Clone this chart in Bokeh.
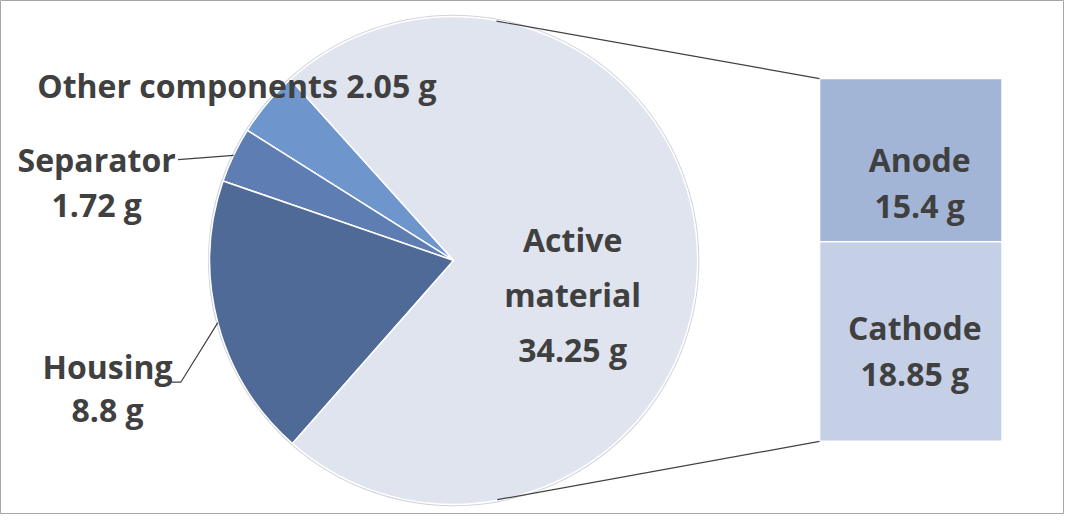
import math
from bokeh.plotting import figure
from bokeh.models import Range1d
from bokeh.core.properties import value
from bokeh.embed import file_html
from bokeh.resources import INLINE

# ---- data ----
pie_labels = ["Other components", "Separator", "Housing", "Active material"]
pie_values = [2.05, 1.72, 8.8, 34.25]
pie_colors = ["#6f95cd", "#5e7db3", "#4f6a97", "#dfe4ef"]
bar_labels = ["Anode", "Cathode"]
bar_values = [15.4, 18.85]
bar_colors = ["#a3b5d7", "#c5d0e7"]
unit = "g"

# ---- layout (reference pixel coords, y downward) ----
W, H = 1064, 514
FX0, FX1, FY0, FY1 = 3, 1076, 6, 526   # chart border in reference coords
CX, CY, R = 460, 269, 246
START = 132.0
BAR_L, BAR_R, BAR_T, BAR_B = 829, 1013, 85, 452
TXT = "#404040"
FONT = value("Open Sans")
FS = "32px"

p = figure(width=W, height=H, output_backend="svg", toolbar_location=None,
           x_range=Range1d(FX0, FX1), y_range=Range1d(-FY1, -FY0),
           x_axis_location=None, y_axis_location=None, min_border=0)
p.grid.visible = False
p.background_fill_color = "white"
p.border_fill_color = "white"
p.outline_line_color = "#a6a6a6"
p.outline_line_width = 1

# ---- pie ----
total = sum(pie_values)
starts, ends, mids = [], [], []
a = START
for v in pie_values:
    span = 360.0 * v / total
    starts.append(math.radians(a))
    ends.append(math.radians(a + span))
    mids.append(a + span / 2)
    a += span

p.circle(x=[CX], y=[-CY], radius=R + 1, fill_color=None,
         line_color="#cfd3dc", line_width=1.5)
p.wedge(x=[CX] * len(pie_values), y=[-CY] * len(pie_values), radius=R,
        start_angle=starts, end_angle=ends,
        direction="anticlock", fill_color=pie_colors,
        line_color="white", line_width=1.5)

# ---- bar ----
btotal = sum(bar_values)
scale = (BAR_B - BAR_T) / btotal
tops, bots = [], []
t = BAR_T
for v in bar_values:
    tops.append(-t)
    bots.append(-(t + v * scale))
    t += v * scale
p.quad(left=[BAR_L] * 2, right=[BAR_R] * 2, top=tops, bottom=bots,
       fill_color=bar_colors, line_color="white", line_width=1.5)

# ---- connector lines (tangents from bar corners to circle) ----
def tangent_point(px, py, upper):
    dx, dy = px - CX, py - (-CY)
    d = math.hypot(dx, dy)
    phi = math.atan2(dy, dx)
    alpha = math.acos(R / d)
    ang = phi + alpha if upper else phi - alpha
    return CX + R * math.cos(ang), -CY + R * math.sin(ang)

tx, ty = tangent_point(BAR_L, -BAR_T, True)
p.line([tx, BAR_L], [ty, -BAR_T], line_color="#404040", line_width=1.2)
bx, by = tangent_point(BAR_L, -BAR_B, False)
p.line([bx, BAR_L], [by, -BAR_B], line_color="#404040", line_width=1.2)

# ---- leader lines ----
def edge(i):
    m = math.radians(mids[i])
    return CX + R * math.cos(m), -CY + R * math.sin(m)

ex, ey = edge(1)
p.line([182, ex], [-167, ey], line_color="#404040", line_width=1.2)
ex, ey = edge(2)
p.line([175, 185, ex], [-392, -392, ey], line_color="#404040", line_width=1.2)

# ---- labels ----
def fmt(v):
    return f"{v:g} {unit}"

def label(lines, x, baselines, align="center"):
    p.text(x=[x] * len(lines), y=[-b for b in baselines], text=lines,
           text_font=FONT, text_font_size=FS, text_font_style="bold",
           text_color=TXT, text_align=align, text_baseline="alphabetic")

label([f"{pie_labels[0]} {fmt(pie_values[0])}"], 40, [92], "left")
label([pie_labels[1], fmt(pie_values[1])], 100, [167, 212])
label([pie_labels[2], fmt(pie_values[2])], 111, [376, 420])
label(["Active", "material", fmt(pie_values[3])], 580, [248, 303, 359])
label([bar_labels[0], fmt(bar_values[0])], 930, [167, 213])
label([bar_labels[1], fmt(bar_values[1])], 925, [337, 383])

open("out.html", "w").write(file_html(p, INLINE))
